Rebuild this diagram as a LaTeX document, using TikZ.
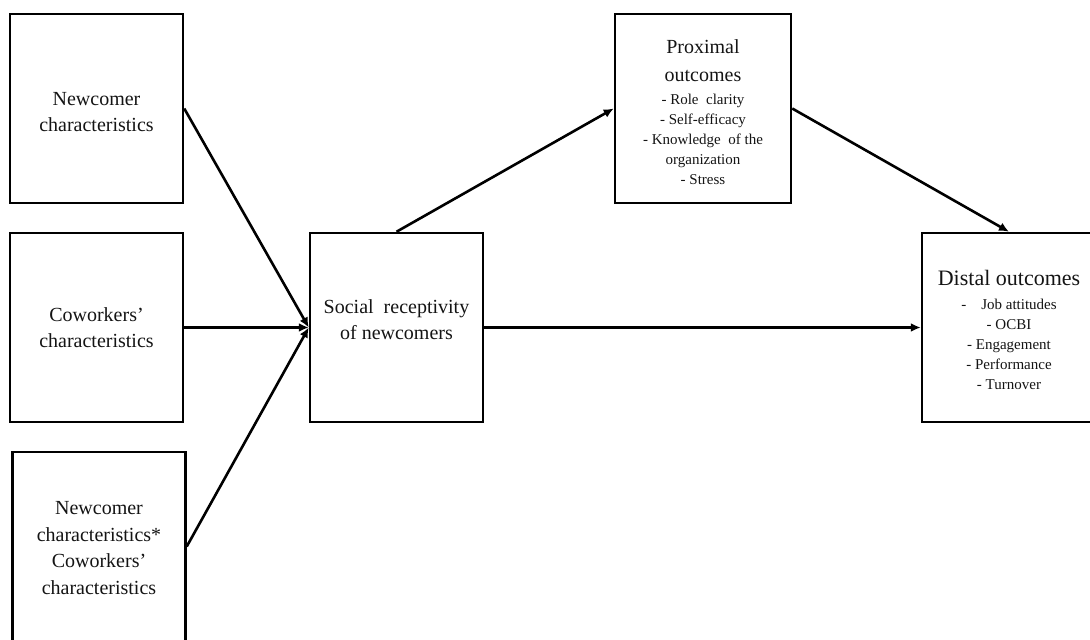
\documentclass[tikz,border=0pt]{standalone}
\usepackage{fontspec}
\setmainfont{Liberation Serif}
\usetikzlibrary{arrows.meta}
\begin{document}
\begin{tikzpicture}[x=1pt,y=-1pt,
  box/.style={draw=black, line width=2.5pt, minimum width=173pt, minimum height=189pt, inner sep=0pt},
  lbl/.style={align=center, inner sep=0pt, text=black!92},
  big/.style={font=\fontsize{20}{26}\selectfont},
  conn/.style={line width=2.6pt, -{Latex[length=10pt,width=9pt]}}]
\useasboundingbox (0,0) rectangle (1090,640);
\clip (0,0) rectangle (1090,640);
% boxes
\node[box] (b1) at (96.5,108.5) {};
\node[box] (b2) at (96.5,327.5) {};
\node[box] (b3) at (99,546.5) {};
\node[box] (soc) at (396.5,327.5) {};
\node[box, minimum width=176pt] (prox) at (703,108.5) {};
\node[box, minimum width=174pt] (dist) at (1009,327.5) {};
% texts
\node[lbl, big] (t1) at (96.5,112.5) {Newcomer\\characteristics};
\node[lbl, big] (t2) at (96.5,328) {Coworkers’\\characteristics};
\node[lbl, big, font=\fontsize{20}{26.7}\selectfont] (t3) at (99,548) {Newcomer\\characteristics*\\Coworkers’\\characteristics};
\node[lbl, big] (ts) at (396.5,320) {Social\ \ receptivity\\of newcomers};
\node[lbl, font=\fontsize{15}{20}\selectfont] (tp) at (703,112.5)
  {{\fontsize{20}{20}\selectfont Proximal}\\[8pt]{\fontsize{20}{20}\selectfont outcomes}\\[3pt]
   - Role\ \ clarity\\ - Self-efficacy\\ - Knowledge\ \ of the\\ organization\\ - Stress};
\node[lbl, font=\fontsize{15}{20}\selectfont] (td) at (1009,330)
  {{\fontsize{22}{20}\selectfont Distal outcomes}\\[4pt]
   -\ \ \ \ Job attitudes\\ - OCBI\\ - Engagement\\ - Performance\\ - Turnover};
% connectors
\draw[conn] (b1.east) -- (soc.west);
\draw[conn] (b2.east) -- (soc.west);
\draw[conn] (b3.east) -- (soc.west);
\draw[conn] (soc.north) -- (prox.west);
\draw[conn] (soc.east) -- (dist.west);
\draw[conn] (prox.east) -- (dist.north);
\end{tikzpicture}
\end{document}
